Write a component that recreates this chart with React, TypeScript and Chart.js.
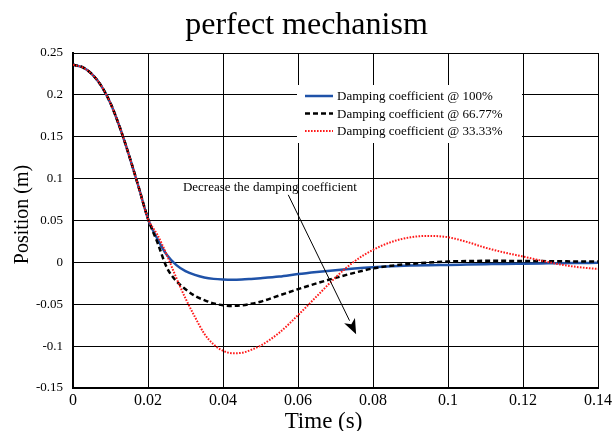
import { useEffect, useRef } from 'react';
import { Chart, registerables } from 'chart.js';

Chart.register(...registerables);

const FONT = '"Liberation Serif", "Times New Roman", serif';

const titleText = 'perfect mechanism';
const xTitle = 'Time (s)';
const yTitle = 'Position (m)';
const annotationText = 'Decrease the damping coefficient';
const seriesLabels = [
  'Damping coefficient @ 100%',
  'Damping coefficient @ 66.77%',
  'Damping coefficient @ 33.33%',
];

const times = [
  0, 0.0025, 0.005, 0.0075, 0.01, 0.0125, 0.015, 0.0175, 0.02, 0.0225, 0.025, 0.0275, 0.03,
  0.0325, 0.035, 0.0375, 0.04, 0.0425, 0.045, 0.0475, 0.05, 0.055, 0.06, 0.065, 0.07, 0.075,
  0.08, 0.085, 0.09, 0.095, 0.1, 0.105, 0.11, 0.115, 0.12, 0.125, 0.13, 0.135, 0.14,
];

const damping100 = [
  0.236, 0.233, 0.225, 0.211, 0.19, 0.161, 0.127, 0.09, 0.052, 0.028, 0.009, -0.003, -0.0105,
  -0.015, -0.018, -0.0197, -0.0205, -0.0208, -0.0205, -0.0198, -0.019, -0.017, -0.014, -0.0115,
  -0.0093, -0.0073, -0.0057, -0.0046, -0.0038, -0.0033, -0.003, -0.0026, -0.0022, -0.0018,
  -0.0015, -0.0012, -0.0009, -0.0007, -0.0005,
];

const damping6677 = [
  0.236, 0.233, 0.225, 0.211, 0.19, 0.161, 0.127, 0.09, 0.052, 0.024, -0.006, -0.022, -0.032,
  -0.04, -0.045, -0.049, -0.0512, -0.052, -0.0512, -0.0495, -0.047, -0.0395, -0.032, -0.025,
  -0.0185, -0.0125, -0.0072, -0.004, -0.0018, -0.0002, 0.001, 0.0016, 0.0018, 0.0018, 0.0017,
  0.0015, 0.0013, 0.0011, 0.001,
];

const damping3333 = [
  0.236, 0.233, 0.225, 0.211, 0.19, 0.161, 0.127, 0.09, 0.052, 0.033, 0.009, -0.018, -0.043,
  -0.065, -0.085, -0.098, -0.1055, -0.1085, -0.108, -0.1045, -0.0995, -0.084, -0.063, -0.0405,
  -0.018, 0.001, 0.015, 0.0245, 0.03, 0.0316, 0.03, 0.0245, 0.0175, 0.0118, 0.007, 0.002,
  -0.0025, -0.0058, -0.0078,
];

const xTickValues = [0, 0.02, 0.04, 0.06, 0.08, 0.1, 0.12, 0.14];
const xTickLabels = ['0', '0.02', '0.04', '0.06', '0.08', '0.1', '0.12', '0.14'];
const yTickValues = [-0.15, -0.1, -0.05, 0, 0.05, 0.1, 0.15, 0.2, 0.25];
const yTickLabels = ['-0.15', '-0.1', '-0.05', '0', '0.05', '0.1', '0.15', '0.2', '0.25'];

// annotation arrow (data coordinates)
const arrowStart = { x: 0.0574, y: 0.0806 };
const arrowEnd = { x: 0.0755, y: -0.0857 };
const annotationAnchor = { x: 0.0293, y: 0.0853 };

const colors = ['rgb(31, 82, 168)', '#000000', '#ff1a1a'];
const dashes: number[][] = [[], [5, 3], [1.6, 1.4]];
const widths = [2.5, 2.5, 2];

const overlayPlugin = {
  id: 'overlay',
  afterDraw(chart: any) {
    const { ctx, chartArea, scales } = chart;
    const xs = scales.x;
    const ys = scales.y;
    ctx.save();
    ctx.fillStyle = '#000';

    // axis titles
    ctx.font = `23px ${FONT}`;
    ctx.textAlign = 'center';
    ctx.textBaseline = 'alphabetic';
    ctx.fillText(xTitle, (chartArea.left + chartArea.right) / 2 - 12, 428);

    ctx.save();
    ctx.translate(28, (chartArea.top + chartArea.bottom) / 2 - 6);
    ctx.rotate(-Math.PI / 2);
    ctx.font = `20px ${FONT}`;
    ctx.fillText(yTitle, 0, 0);
    ctx.restore();

    // legend box
    const lx = chartArea.right - 301;
    const ly = chartArea.top + 32;
    ctx.fillStyle = '#fff';
    ctx.fillRect(lx, ly, 225, 58);
    for (let i = 0; i < 3; i++) {
      const yy = ly + 11 + i * 17.5;
      ctx.beginPath();
      ctx.strokeStyle = colors[i];
      ctx.lineWidth = widths[i];
      ctx.setLineDash(dashes[i]);
      ctx.moveTo(lx + 8, yy);
      ctx.lineTo(lx + 36, yy);
      ctx.stroke();
      ctx.setLineDash([]);
      ctx.fillStyle = '#000';
      ctx.font = `13px ${FONT}`;
      ctx.textAlign = 'left';
      ctx.textBaseline = 'middle';
      ctx.fillText(seriesLabels[i], lx + 40, yy + 1);
    }

    // annotation text
    ctx.fillStyle = '#000';
    ctx.font = `13px ${FONT}`;
    ctx.textAlign = 'left';
    ctx.textBaseline = 'alphabetic';
    ctx.fillText(
      annotationText,
      xs.getPixelForValue(annotationAnchor.x),
      ys.getPixelForValue(annotationAnchor.y)
    );

    // arrow
    const x1 = xs.getPixelForValue(arrowStart.x);
    const y1 = ys.getPixelForValue(arrowStart.y);
    const x2 = xs.getPixelForValue(arrowEnd.x);
    const y2 = ys.getPixelForValue(arrowEnd.y);
    const ang = Math.atan2(y2 - y1, x2 - x1);
    const headLen = 15;
    const headW = 6;
    const bx = x2 - headLen * Math.cos(ang);
    const by = y2 - headLen * Math.sin(ang);
    ctx.strokeStyle = '#000';
    ctx.lineWidth = 1;
    ctx.beginPath();
    ctx.moveTo(x1, y1);
    ctx.lineTo(bx, by);
    ctx.stroke();
    ctx.beginPath();
    ctx.moveTo(x2, y2);
    ctx.lineTo(bx + headW * Math.sin(ang), by - headW * Math.cos(ang));
    ctx.lineTo(x2 - (headLen - 4) * Math.cos(ang), y2 - (headLen - 4) * Math.sin(ang));
    ctx.lineTo(bx - headW * Math.sin(ang), by + headW * Math.cos(ang));
    ctx.closePath();
    ctx.fill();

    ctx.restore();
  },
};

export default function App() {
  const canvasRef = useRef<HTMLCanvasElement | null>(null);

  useEffect(() => {
    if (!canvasRef.current) return;
    const series = [damping100, damping6677, damping3333];
    const chart = new Chart(canvasRef.current, {
      type: 'line',
      data: {
        datasets: series.map((vals, i) => ({
          label: seriesLabels[i],
          data: times.map((t, j) => ({ x: t, y: vals[j] })),
          borderColor: colors[i],
          borderWidth: widths[i],
          borderDash: dashes[i],
          pointRadius: 0,
          fill: false,
          cubicInterpolationMode: 'monotone' as const,
          order: 2 - i,
        })),
      },
      options: {
        animation: false,
        responsive: true,
        maintainAspectRatio: false,
        layout: { padding: { left: 0, right: 0, top: 0, bottom: 0 } },
        plugins: {
          legend: { display: false },
          tooltip: { enabled: false },
          title: {
            display: true,
            text: titleText,
            color: '#000',
            font: { family: FONT, size: 32, weight: 'normal', lineHeight: 1.2 },
            padding: { top: 6, bottom: 8.6 },
          },
        },
        scales: {
          x: {
            type: 'linear',
            min: 0,
            max: 0.14,
            afterBuildTicks: (s: any) => {
              s.ticks = xTickValues.map((v) => ({ value: v }));
            },
            afterFit: (s: any) => {
              s.height = 43;
              s.paddingLeft = 0;
              s.paddingRight = 15;
            },
            ticks: {
              callback: (_v: any, i: number) => xTickLabels[i],
              color: '#000',
              font: { family: FONT, size: 16 },
              padding: 3,
              maxRotation: 0,
              autoSkip: false,
            },
            grid: { color: '#000', lineWidth: 1, drawTicks: false },
            border: { color: '#000', width: 2 },
          },
          y: {
            type: 'linear',
            min: -0.15,
            max: 0.25,
            afterBuildTicks: (s: any) => {
              s.ticks = yTickValues.map((v) => ({ value: v }));
            },
            afterFit: (s: any) => {
              s.width = 73;
              s.paddingTop = 0;
              s.paddingBottom = 0;
            },
            ticks: {
              callback: (_v: any, i: number) => yTickLabels[i],
              color: '#000',
              font: { family: FONT, size: 13 },
              padding: 10,
              autoSkip: false,
            },
            grid: { color: '#000', lineWidth: 1, drawTicks: false },
            border: { color: '#000', width: 2 },
          },
        },
      },
      plugins: [overlayPlugin],
    } as any);
    return () => chart.destroy();
  }, []);

  return (
    <div style={{ position: 'absolute', left: 0, top: 0, width: 613, height: 431, background: '#fff' }}>
      <canvas ref={canvasRef} />
    </div>
  );
}
